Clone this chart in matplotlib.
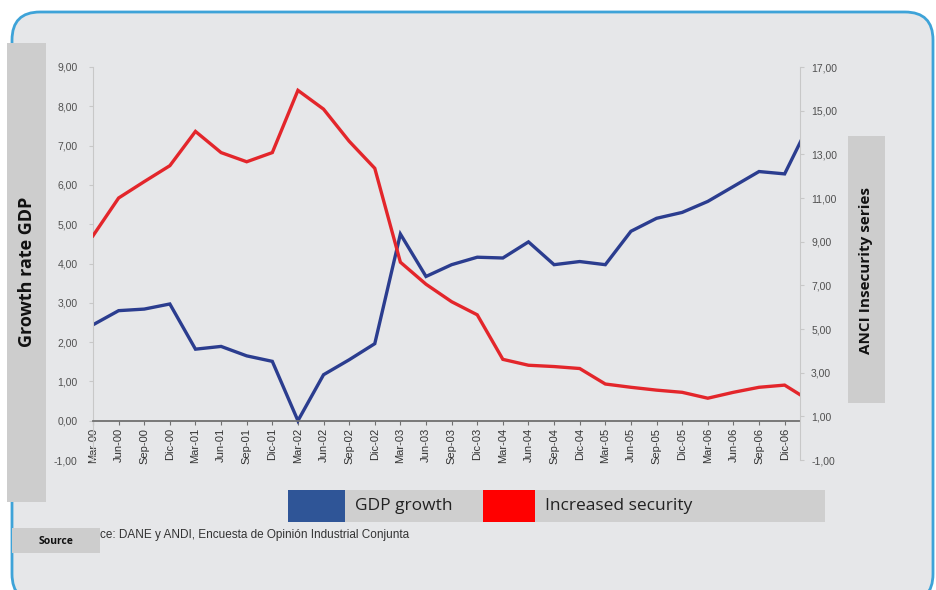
import matplotlib.pyplot as plt
from matplotlib.patches import Rectangle, FancyBboxPatch
from matplotlib.transforms import IdentityTransform

quarters = ['Mar-00', 'Jun-00', 'Sep-00', 'Dic-00',
            'Mar-01', 'Jun-01', 'Sep-01', 'Dic-01',
            'Mar-02', 'Jun-02', 'Sep-02', 'Dic-02',
            'Mar-03', 'Jun-03', 'Sep-03', 'Dic-03',
            'Mar-04', 'Jun-04', 'Sep-04', 'Dic-04',
            'Mar-05', 'Jun-05', 'Sep-05', 'Dic-05',
            'Mar-06', 'Jun-06', 'Sep-06', 'Dic-06', 'Mar-07']

# GDP growth (left axis)
gdp_growth = [2.44, 2.80, 2.84, 2.97, 1.82, 1.89, 1.65, 1.51, 0.00, 1.17,
              1.55, 1.96, 4.75, 3.67, 3.97, 4.16, 4.14, 4.55, 3.97, 4.05,
              3.97, 4.82, 5.15, 5.30, 5.58, 5.96, 6.34, 6.28, 7.60]

# ANCI insecurity series (right axis)
insecurity = [9.27, 11.00, 11.75, 12.48, 14.05, 13.08, 12.66, 13.08, 15.93, 15.07,
              13.60, 12.36, 8.06, 7.05, 6.25, 5.65, 3.61, 3.34, 3.28, 3.19,
              2.48, 2.33, 2.20, 2.10, 1.83, 2.10, 2.33, 2.43, 1.70]

left_ticks = list(range(-1, 10))
right_ticks = list(range(-1, 18, 2))

W, H = 937, 590
fig = plt.figure(figsize=(W / 100, H / 100), dpi=100)
fig.patch.set_facecolor('white')

# rounded panel background
panel = FancyBboxPatch((12, -12), 921, 590, boxstyle="round,pad=0,rounding_size=28",
                       transform=IdentityTransform(), facecolor='#e6e7e9',
                       edgecolor='#3ea3d8', linewidth=2, zorder=0)
fig.add_artist(panel)


def px_rect(x0, y0, x1, y1, color, z=1):
    r = Rectangle((x0 / W, 1 - y1 / H), (x1 - x0) / W, (y1 - y0) / H,
                  transform=fig.transFigure, facecolor=color, edgecolor='none', zorder=z)
    fig.add_artist(r)


def px_text(x, y, s, **kw):
    fig.text(x / W, 1 - y / H, s, **kw)


fmt = lambda v: f"{v:.2f}".replace('.', ',')

ax = fig.add_axes([93 / W, 130 / H, 707 / W, 393 / H])
ax.set_facecolor('none')
x = list(range(len(quarters)))
ax.plot(x, gdp_growth, color='#2b3d8f', lw=2.4, solid_joinstyle='miter')

ax2 = ax.twinx()
ax2.plot(x, insecurity, color='#e3262b', lw=2.4, solid_joinstyle='miter')

ax.set_xticks(x)
ax.set_xticklabels(quarters)
ax.set_yticks(left_ticks)
ax.set_yticklabels([fmt(v) for v in left_ticks])
ax2.set_yticks(right_ticks)
ax2.set_yticklabels([fmt(v) for v in right_ticks])
ax.set_ylim(-1, 9)
ax2.set_ylim(-1, 17)
# last quarter runs past the plot edge, as in the original clipped chart
ax.set_xlim(0, 27.6)
ax2.set_xlim(0, 27.6)

for a in (ax, ax2):
    for s in a.spines.values():
        s.set_visible(False)
ax.spines['bottom'].set_visible(True)
ax.spines['bottom'].set_position(('data', 0))
ax.spines['bottom'].set_color('#707070')
ax.spines['bottom'].set_linewidth(1.3)
ax.spines['left'].set_visible(True)
ax.spines['left'].set_color('#c8c8c8')
ax2.spines['right'].set_visible(True)
ax2.spines['right'].set_color('#c8c8c8')

ax.tick_params(axis='x', length=3, color='#707070', pad=2, labelcolor='#333333',
               labelrotation=90, labelsize=8, labelfontfamily='Liberation Sans')
ax.tick_params(axis='y', length=3, color='#c8c8c8', pad=8, labelcolor='#505050',
               labelsize=7.5, labelfontfamily='Liberation Sans')
ax2.tick_params(axis='y', length=3, color='#c8c8c8', pad=5, labelcolor='#505050',
                labelsize=7.5, labelfontfamily='Liberation Sans')

# axis title boxes
px_rect(7, 43, 46, 502, '#cdcdcd')
px_text(27, 272, 'Growth rate GDP', rotation=90, ha='center', va='center',
        fontsize=13, fontweight='bold', family='Open Sans', color='#111111')
px_rect(848, 136, 885, 403, '#cdcdcd')
px_text(866, 270, 'ANCI Insecurity series', rotation=90, ha='center', va='center',
        fontsize=11, fontweight='bold', family='Open Sans', color='#111111')

# legend strip
px_rect(288, 490, 825, 522, '#cfcfcf')
px_rect(288, 490, 345, 522, '#2f5597', z=2)
px_rect(483, 490, 535, 522, '#ff0000', z=2)
px_text(355, 506, 'GDP growth', ha='left', va='center', fontsize=12.5,
        family='Open Sans', color='#222222')
px_text(545, 506, 'Increased security', ha='left', va='center', fontsize=12.5,
        family='Open Sans', color='#222222')

# source
px_rect(12, 528, 100, 553, '#cdcdcd')
px_text(56, 541, 'Source', ha='center', va='center', fontsize=7.5,
        fontweight='bold', family='Open Sans', color='#111111')
px_text(100, 535, 'ce: DANE y ANDI, Encuesta de Opinión Industrial Conjunta',
        ha='left', va='center', fontsize=8.5, family='Liberation Sans',
        color='#333333')

fig.savefig('out.png', dpi=100)
